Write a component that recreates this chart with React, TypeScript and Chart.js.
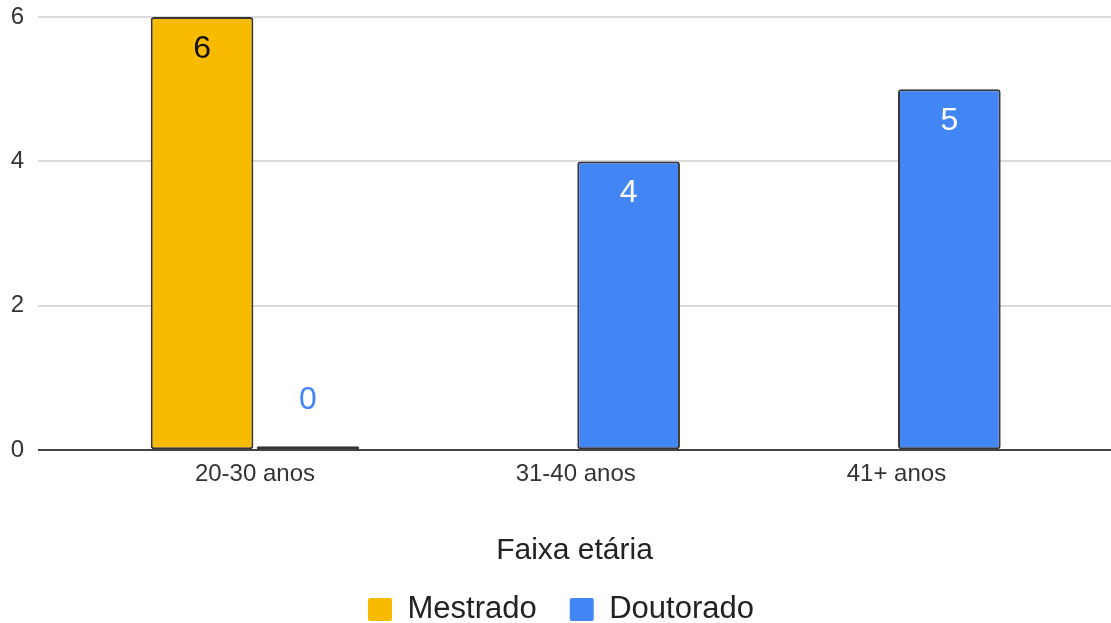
import React, { useEffect, useRef } from "react";
import { Chart, registerables } from "chart.js";

Chart.register(...registerables);

const categories = ["20-30 anos", "31-40 anos", "41+ anos"];
const mestrado: (number | null)[] = [6, null, null];
const doutorado: (number | null)[] = [0, 4, 5];
const yTicks = [0, 2, 4, 6];

const YELLOW = "#F9BB00";
const BLUE = "#4285F4";
const FONT = "'Liberation Sans', Arial, sans-serif";

const toPoints = (vals: (number | null)[]) =>
  vals.map((v, i) => ({ x: i, y: v }));

// Writes each bar's value: inside near the top for filled bars, above the base for zero bars.
const valueLabels = {
  id: "valueLabels",
  afterDatasetsDraw(chart: any) {
    const ctx = chart.ctx;
    ctx.save();
    ctx.font = `32px ${FONT}`;
    ctx.textAlign = "center";
    ctx.textBaseline = "middle";
    chart.data.datasets.forEach((ds: any, di: number) => {
      const meta = chart.getDatasetMeta(di);
      meta.data.forEach((bar: any, i: number) => {
        const v = ds.data[i].y;
        if (v === null || v === undefined) return;
        if (v > 0) {
          ctx.fillStyle = ds.labelColor;
          ctx.fillText(String(v), bar.x, bar.y + 32);
        } else {
          ctx.fillStyle = BLUE;
          ctx.fillText(String(v), bar.x, bar.base - 49);
        }
      });
    });
    ctx.restore();
  },
};

export default function App() {
  const canvasRef = useRef<HTMLCanvasElement | null>(null);

  useEffect(() => {
    if (!canvasRef.current) return;
    const chart = new Chart(canvasRef.current, {
      type: "bar",
      data: {
        datasets: [
          {
            label: "Mestrado",
            data: toPoints(mestrado),
            backgroundColor: YELLOW,
            borderColor: "#363636",
            borderWidth: 2,
            borderRadius: 3,
            borderSkipped: false,
            barPercentage: 0.97,
            categoryPercentage: 0.66,
            labelColor: "#111",
          } as any,
          {
            label: "Doutorado",
            data: toPoints(doutorado),
            backgroundColor: (c: any) =>
              c.raw && c.raw.y === 0 ? "#222" : BLUE,
            borderColor: "#363636",
            borderWidth: 2,
            borderRadius: 3,
            borderSkipped: false,
            barPercentage: 0.97,
            categoryPercentage: 0.66,
            minBarLength: 4,
            labelColor: "#fff",
          } as any,
        ],
      },
      options: {
        animation: false,
        responsive: true,
        maintainAspectRatio: false,
        layout: { padding: { top: 0, left: 11, right: 0, bottom: -12 } },
        plugins: {
          tooltip: { enabled: false },
          legend: {
            position: "bottom",
            labels: {
              font: { family: FONT, size: 31 },
              color: "#222",
              boxWidth: 24,
              boxHeight: 23,
              padding: 33,
              generateLabels: (chart: any) =>
                Chart.defaults.plugins.legend.labels
                  .generateLabels(chart)
                  .map((item: any, i: number) => ({
                    ...item,
                    fillStyle: i === 0 ? YELLOW : BLUE,
                    strokeStyle: i === 0 ? YELLOW : BLUE,
                    lineWidth: 0,
                    borderRadius: 2,
                  })),
            },
          },
        },
        scales: {
          x: {
            type: "linear",
            offset: false,
            min: -0.6765,
            max: 2.669,
            grid: { display: false, drawTicks: false },
            border: { display: false },
            afterBuildTicks: (axis: any) => {
              axis.ticks = categories.map((_, i) => ({ value: i }));
            },
            ticks: {
              font: { family: FONT, size: 24 },
              color: "#333",
              padding: 10,
              maxRotation: 0,
              autoSkip: false,
              callback: (v: any) => categories[v as number] ?? "",
            },
            title: {
              display: true,
              text: "Faixa etária",
              font: { family: FONT, size: 30 },
              color: "#222",
              padding: { top: 34, bottom: -8 },
            },
          },
          y: {
            min: 0,
            max: 6,
            afterBuildTicks: (axis: any) => {
              axis.ticks = yTicks.map((v) => ({ value: v }));
            },
            afterFit: (axis: any) => {
              axis.width = 27;
              axis.paddingTop = 17;
            },
            grid: {
              drawTicks: false,
              color: (c: any) => (c.tick && c.tick.value === 0 ? "#444" : "#dadada"),
              lineWidth: 2,
            },
            border: { display: false },
            ticks: {
              font: { family: FONT, size: 24 },
              color: "#333",
              padding: 14,
            },
          },
        },
      },
      plugins: [valueLabels],
    } as any);
    return () => chart.destroy();
  }, []);

  return (
    <div style={{ position: "absolute", left: 0, top: 0, width: 1111, height: 623 }}>
      <canvas ref={canvasRef} />
    </div>
  );
}
